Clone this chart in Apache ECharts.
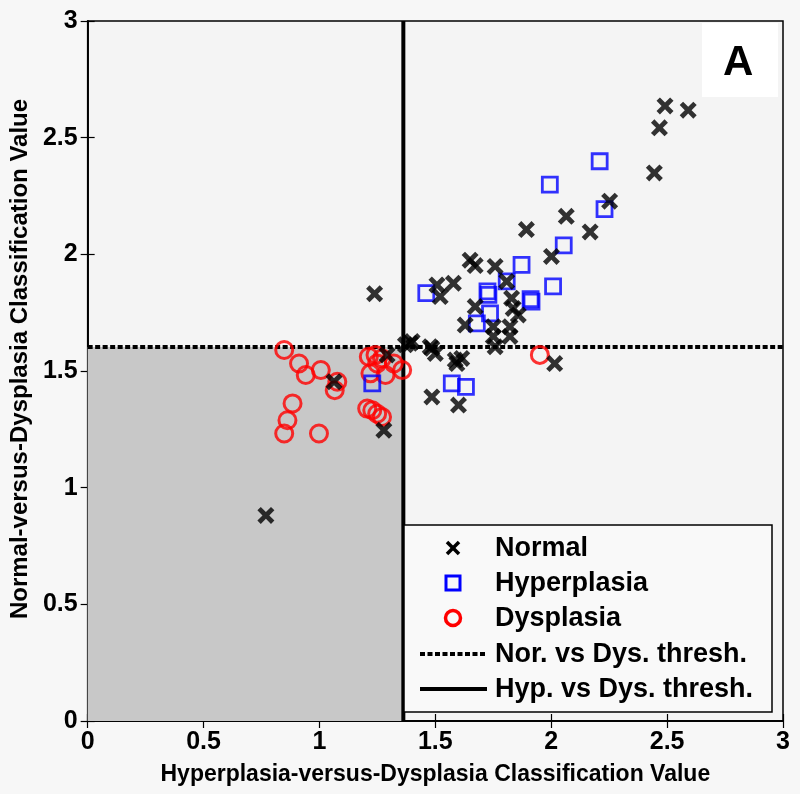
<!DOCTYPE html>
<html><head><meta charset="utf-8">
<script src="https://cdn.jsdelivr.net/npm/echarts@6/dist/echarts.min.js"></script>
<style>html,body{margin:0;padding:0;background:#f7f7f7;}#c{width:800px;height:794px;}</style>
</head><body><div id="c"></div>
<script>
const xTicks = [0, 0.5, 1, 1.5, 2, 2.5, 3];
const yTicks = [0, 0.5, 1, 1.5, 2, 2.5, 3];
const normalPts = [[0.769,0.881],[1.063,1.454],[1.278,1.246],[1.238,1.831],[1.292,1.569],[1.392,1.619],[1.371,1.612],[1.40,1.626],[1.478,1.604],[1.5,1.575],[1.485,1.597],[1.586,1.547],[1.614,1.554],[1.593,1.532],[2.015,1.532],[1.485,1.389],[1.6,1.354],[1.507,1.869],[1.578,1.876],[1.521,1.819],[1.65,1.975],[1.672,1.952],[1.758,1.948],[1.808,1.884],[1.829,1.812],[1.672,1.776],[1.836,1.768],[1.858,1.74],[1.629,1.697],[1.75,1.69],[1.822,1.69],[1.75,1.648],[1.822,1.648],[1.758,1.604],[1.893,2.106],[2.065,2.163],[2.001,1.991],[2.168,2.096],[2.252,2.228],[2.445,2.349],[2.467,2.542],[2.491,2.636],[2.591,2.618]];
const hyperPts = [[1.228,1.447],[1.461,1.834],[1.571,1.447],[1.632,1.432],[1.679,1.704],[1.736,1.747],[1.725,1.841],[1.729,1.826],[1.808,1.884],[1.872,1.955],[1.911,1.808],[1.915,1.797],[2.008,1.863],[2.054,2.038],[1.994,2.299],[2.209,2.399],[2.23,2.194]];
const dysPts = [[0.848,1.59],[0.912,1.532],[0.941,1.483],[1.006,1.504],[1.077,1.454],[1.066,1.418],[0.884,1.361],[0.862,1.289],[0.848,1.232],[0.998,1.232],[1.213,1.561],[1.242,1.569],[1.27,1.554],[1.249,1.532],[1.22,1.49],[1.285,1.483],[1.321,1.532],[1.357,1.504],[1.206,1.339],[1.228,1.332],[1.249,1.317],[1.27,1.303],[1.951,1.569]];
const norDysThresh = 1.603;
const hypDysThresh = 1.362;
const seriesNames = ['Normal','Hyperplasia','Dysplasia','Nor. vs Dys. thresh.','Hyp. vs Dys. thresh.'];

const FF = '"Liberation Sans", Arial, sans-serif';
const XPATH = 'path://M2,0L5,3L8,0L10,2L7,5L10,8L8,10L5,7L2,10L0,8L3,5L0,2Z';
const chart = echarts.init(document.getElementById('c'));
const axisCommon = {
  type: 'value', min: 0, max: 3, interval: 0.5,
  axisLine: {show: true, lineStyle: {color: '#000', width: 1.5}},
  axisTick: {show: true, inside: true, length: 7, lineStyle: {color: '#000', width: 1.2}},
  splitLine: {show: false}
};
const labelStyle = {color: '#000', fontFamily: FF, fontWeight: 'bold', fontSize: 25,
  formatter: v => String(v)};

// manual legend built from series names
const legendRows = [548, 583, 618, 654, 689];
const legendGraphics = [
  {type: 'rect', z: 10, shape: {x: 404, y: 525, width: 368, height: 187},
    style: {fill: '#f9f9f9', stroke: '#000', lineWidth: 1.5}}
];
seriesNames.forEach((n, i) => {
  legendGraphics.push({type: 'text', z: 12, left: 495, top: legendRows[i] - 13,
    style: {text: n, fill: '#000', font: 'bold 27px "Liberation Sans", Arial, sans-serif'}});
});
const cx = 453;
legendGraphics.push(
  {type: 'polyline', z: 12, shape: {points: [[cx-6, legendRows[0]-6],[cx+6, legendRows[0]+6]]}, style: {stroke: '#000', lineWidth: 3.5}},
  {type: 'polyline', z: 12, shape: {points: [[cx+6, legendRows[0]-6],[cx-6, legendRows[0]+6]]}, style: {stroke: '#000', lineWidth: 3.5}},
  {type: 'rect', z: 12, shape: {x: cx-7, y: legendRows[1]-7, width: 14, height: 14}, style: {fill: 'none', stroke: '#0000ff', lineWidth: 3}},
  {type: 'circle', z: 12, shape: {cx: cx, cy: legendRows[2], r: 7.5}, style: {fill: 'none', stroke: '#ff0000', lineWidth: 3.5}},
  {type: 'line', z: 12, shape: {x1: 420, y1: legendRows[3], x2: 487, y2: legendRows[3]}, style: {stroke: '#000', lineWidth: 4, lineDash: [5, 2.5]}},
  {type: 'line', z: 12, shape: {x1: 420, y1: legendRows[4], x2: 487, y2: legendRows[4]}, style: {stroke: '#000', lineWidth: 4}}
);

chart.setOption({
  backgroundColor: '#f7f7f7',
  animation: false,
  grid: {left: 84, right: 17, top: 21, bottom: 73, show: true, backgroundColor: '#f4f4f4', borderColor: '#000', borderWidth: 1.5},
  xAxis: [
    Object.assign({}, axisCommon, {position: 'bottom', axisLabel: Object.assign({margin: 9}, labelStyle),
      name: 'Hyperplasia-versus-Dysplasia Classification Value', nameLocation: 'middle', nameGap: 42,
      nameTextStyle: {color: '#000', fontFamily: FF, fontWeight: 'bold', fontSize: 23}}),
    Object.assign({}, axisCommon, {position: 'top', axisLabel: {show: false}})
  ],
  yAxis: [
    Object.assign({}, axisCommon, {position: 'left', axisLabel: Object.assign({margin: 10}, labelStyle),
      name: 'Normal-versus-Dysplasia Classification Value', nameLocation: 'middle', nameGap: 46,
      nameTextStyle: {color: '#000', fontFamily: FF, fontWeight: 'bold', fontSize: 24, padding: [0, 0, 0, 24]}}),
    Object.assign({}, axisCommon, {position: 'right', axisLabel: {show: false}})
  ],
  graphic: legendGraphics.concat([
    {type: 'rect', z: 10, shape: {x: 702, y: 23, width: 76, height: 74}, style: {fill: '#ffffff'}},
    {type: 'text', z: 11, left: 723, top: 42, style: {text: 'A', fill: '#000', font: 'bold 42px "Liberation Sans", Arial, sans-serif'}}
  ]),
  series: [
    {name: 'Normal', type: 'scatter', z: 5, data: normalPts,
      symbol: XPATH, symbolSize: 17,
      itemStyle: {color: '#000'}},
    {name: 'Hyperplasia', type: 'scatter', z: 4, data: hyperPts,
      symbol: 'rect', symbolSize: 15,
      itemStyle: {color: 'transparent', borderColor: '#0000ff', borderWidth: 2.8}},
    {name: 'Dysplasia', type: 'scatter', z: 3, data: dysPts,
      symbol: 'circle', symbolSize: 17,
      itemStyle: {color: 'transparent', borderColor: '#ff0000', borderWidth: 3}},
    {name: 'Nor. vs Dys. thresh.', type: 'line', z: 2, symbol: 'none',
      data: [[0, norDysThresh], [3, norDysThresh]],
      lineStyle: {color: '#000', width: 4, type: [5, 2.5]},
      markArea: {silent: true, itemStyle: {color: '#c8c8c8'},
        data: [[{coord: [0, 0]}, {coord: [hypDysThresh, norDysThresh]}]]}},
    {name: 'Hyp. vs Dys. thresh.', type: 'line', z: 2, symbol: 'none',
      data: [[hypDysThresh, 0], [hypDysThresh, 3]],
      lineStyle: {color: '#000', width: 4}}
  ]
});
</script></body></html>
